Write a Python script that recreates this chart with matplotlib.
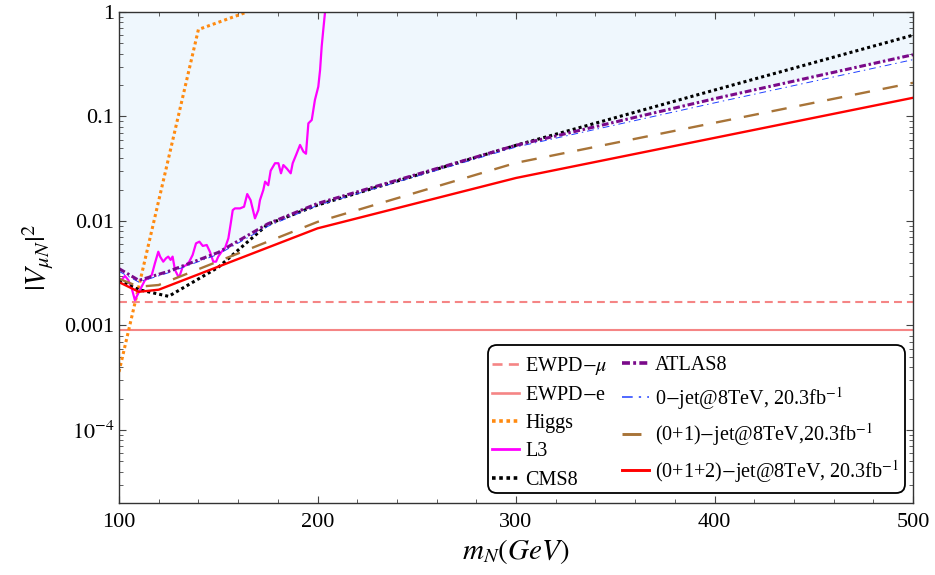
import matplotlib
matplotlib.use("Agg")
import matplotlib.pyplot as plt
import matplotlib.ticker as ticker
from matplotlib.lines import Line2D
from matplotlib.patches import FancyBboxPatch

plt.rcParams["font.family"] = ["Liberation Serif", "DejaVu Serif"]
plt.rcParams["mathtext.fontset"] = "stix"

# Data
ewpd_mu = 0.00168
ewpd_e = 0.00091

higgs_m = [100, 140, 164.5]
higgs_v = [3.6e-4, 0.68, 1.0]

l3_m = [100.5, 103, 104.7, 106.4, 108, 109.7, 111.4, 113.1, 114.8, 116.5, 118.1,
        119.8, 120.7, 122.3, 123.7, 124.8, 126, 127, 128.2, 129.9, 130.7, 132.1,
        133.8, 135.4, 137.1, 138.8, 140.5, 142.2, 144.2, 145.8, 147.5, 148.9, 150,
        151.7, 153.4, 155.1, 156.3, 157.3, 158.4, 161, 163, 164.6, 166.3, 168.5,
        170.2, 171, 172.7, 173.6, 175.2, 176.4, 178.6, 180.3, 181.6, 182.8, 184.5,
        186.5, 187.5, 189.2, 191.2, 192.9, 194.2, 195.4, 197.1, 198.7, 200.4,
        201.3, 202.1, 202.9, 203.8]
l3_v = [0.00262, 0.00298, 0.00272, 0.00227, 0.00175, 0.00203, 0.00235, 0.00272,
        0.00283, 0.00304, 0.00394, 0.00508, 0.00456, 0.00408, 0.0044, 0.00456,
        0.00424, 0.00456, 0.0034, 0.00293, 0.00304, 0.00366, 0.00377, 0.00408,
        0.00473, 0.00611, 0.00634, 0.00577, 0.00589, 0.00508, 0.00408, 0.00408,
        0.00456, 0.00508, 0.0055, 0.00683, 0.0095, 0.0127, 0.0132, 0.0132, 0.0137,
        0.0181, 0.0158, 0.0106, 0.0127, 0.0158, 0.0198, 0.0238, 0.022, 0.0303,
        0.0357, 0.0357, 0.0286, 0.0343, 0.0318, 0.0286, 0.0357, 0.0428, 0.0534,
        0.0461, 0.044, 0.086, 0.0926, 0.144, 0.193, 0.279, 0.466, 0.673, 1.0]

cms_m = [100, 110, 125, 150, 175, 200, 300, 400, 500]
cms_v = [0.0027, 0.0022, 0.0019, 0.0036, 0.0093, 0.0142, 0.053, 0.179, 0.60]

atlas_m = [100, 110, 125, 150, 175, 200, 300, 400, 500]
atlas_v = [0.0035, 0.0027, 0.0033, 0.0050, 0.0094, 0.0147, 0.053, 0.148, 0.39]

jet0_m = [100, 110, 125, 150, 175, 200, 300, 400, 500]
jet0_v = [0.0033, 0.0026, 0.0032, 0.0048, 0.0089, 0.0141, 0.051, 0.135, 0.35]

jet01_m = [100, 110, 120, 200, 300, 400, 500]
jet01_v = [0.0028, 0.00235, 0.00244, 0.0098, 0.036, 0.087, 0.21]

jet012_m = [100, 110, 120, 200, 300, 400, 500]
jet012_v = [0.0026, 0.0021, 0.0022, 0.0085, 0.0258, 0.0624, 0.151]

ytick_vals = [1e-4, 1e-3, 1e-2, 1e-1, 1]
ytick_labels = [r"$10^{-4}$", "0.001", "0.01", "0.1", "1"]

COLORS = {
    "ewpd": "#F58585",
    "higgs": "#FF8A10",
    "l3": "#FF00FF",
    "cms": "#000000",
    "atlas": "#7A0A8A",
    "jet0": "#2040FF",
    "jet01": "#A87438",
    "jet012": "#FF0000",
    "fill": "#EFF7FD",
}

STY = {
    "ewpd_mu": dict(color=COLORS["ewpd"], lw=1.5, ls=(0, (3.8, 2.4))),
    "ewpd_e": dict(color=COLORS["ewpd"], lw=1.5, ls="-"),
    "higgs": dict(color=COLORS["higgs"], lw=2.2, ls=(0, (1, 1))),
    "l3": dict(color=COLORS["l3"], lw=1.6, ls="-"),
    "cms": dict(color=COLORS["cms"], lw=2.2, ls=(0, (1, 1))),
    "atlas": dict(color=COLORS["atlas"], lw=2.2, ls=(0, (2.2, 0.9, 0.8, 0.9))),
    "jet0": dict(color=COLORS["jet0"], lw=0.7, ls=(0, (7, 4, 1.5, 4))),
    "jet01": dict(color=COLORS["jet01"], lw=1.7, ls=(0, (6.5, 5.5))),
    "jet012": dict(color=COLORS["jet012"], lw=1.7, ls="-"),
}

fig = plt.figure(figsize=(9.35, 5.75), dpi=100)
ax = fig.add_axes([119 / 935, 1 - 503 / 575, (913 - 119) / 935, (503 - 12) / 575])

ax.fill_between(atlas_m, atlas_v, 1.0, color=COLORS["fill"], lw=0, zorder=0)

ax.axhline(ewpd_mu, **STY["ewpd_mu"])
ax.axhline(ewpd_e, **STY["ewpd_e"])
ax.plot(higgs_m, higgs_v, **STY["higgs"])
ax.plot(l3_m, l3_v, **STY["l3"])
ax.plot(cms_m, cms_v, **STY["cms"])
ax.plot(jet0_m, jet0_v, **STY["jet0"])
ax.plot(atlas_m, atlas_v, **STY["atlas"])
ax.plot(jet01_m, jet01_v, **STY["jet01"])
ax.plot(jet012_m, jet012_v, **STY["jet012"])

ax.set_yscale("log")
ax.set_xlim(100, 500)
ax.set_ylim(2e-5, 1)
ax.set_yticks(ytick_vals)
ax.set_yticklabels(ytick_labels)
ax.yaxis.set_minor_locator(ticker.LogLocator(base=10, subs=range(2, 10), numticks=20))
ax.yaxis.set_minor_formatter(ticker.NullFormatter())
ax.xaxis.set_major_locator(ticker.MultipleLocator(100))
ax.xaxis.set_minor_locator(ticker.MultipleLocator(20))
ax.tick_params(which="both", direction="in", top=True, right=True, labelsize=16,
               color="#444444")
ax.tick_params(which="major", length=5, width=0.8)
ax.tick_params(which="minor", length=3, width=0.6)
ax.tick_params(axis="x", pad=7)
for s in ax.spines.values():
    s.set_color("#333333")
    s.set_linewidth(1.0)

ax.set_xlabel(r"$m_N(GeV)$", fontsize=21, labelpad=4)
ax.set_ylabel(r"$|V_{\mu N}|^2$", fontsize=21, labelpad=6)

# Legend: rounded box with two columns
box = FancyBboxPatch((488, 575 - 493), 905 - 488, 493 - 345,
                     boxstyle="round,pad=0,rounding_size=9",
                     transform=None, facecolor="white", edgecolor="black",
                     lw=1.3, zorder=5)
fig.patches.append(box)

def handle(key):
    st = STY[key]
    return Line2D([], [], color=st["color"], lw=st["lw"] + 0.4, ls=st["ls"])

col1 = [("ewpd_mu", r"EWPD$-\mu$"), ("ewpd_e", r"EWPD$-$e"), ("higgs", "Higgs"),
        ("l3", "L3"), ("cms", "CMS8")]
col2 = [("atlas", "ATLAS8"), ("jet0", r"0$-$jet@8TeV, 20.3fb$^{-1}$"),
        ("jet01", r"(0+1)$-$jet@8TeV,20.3fb$^{-1}$"),
        ("jet012", r"(0+1+2)$-$jet@8TeV, 20.3fb$^{-1}$")]

leg1 = fig.legend([handle(k) for k, _ in col1], [t for _, t in col1],
                  loc="upper left", bbox_to_anchor=(492 / 935, 1 - 355 / 575),
                  frameon=False, fontsize=14.5, handlelength=1.35,
                  handletextpad=0.3, labelspacing=0.45, borderaxespad=0,
                  borderpad=0)
leg2 = fig.legend([handle(k) for k, _ in col2], [t for _, t in col2],
                  loc="upper left", bbox_to_anchor=(622 / 935, 1 - 356 / 575),
                  frameon=False, fontsize=14.5, handlelength=1.35,
                  handletextpad=0.3, labelspacing=0.48, borderaxespad=0,
                  borderpad=0)
leg1.set_zorder(6)
leg2.set_zorder(6)

fig.savefig("out.png", dpi=100)
plt.close(fig)
